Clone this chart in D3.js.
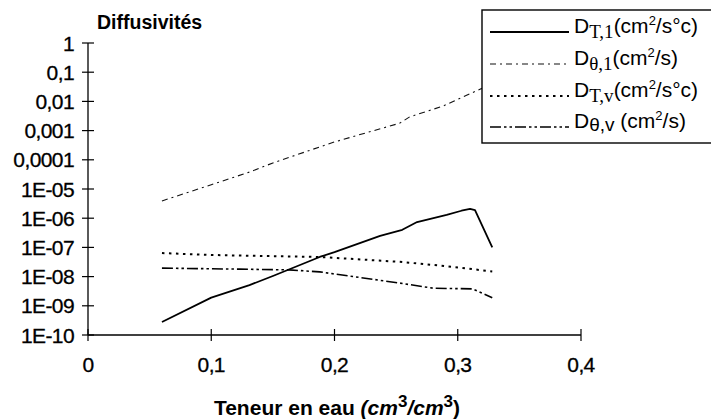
<!DOCTYPE html>
<html><head><meta charset="utf-8">
<script src="https://cdn.jsdelivr.net/npm/d3@7"></script>
<style>body{margin:0;background:#fff}svg{display:block}</style>
</head><body>
<svg id="c" width="711" height="419"></svg>
<script>
// ---- data ----
const yTickValues = [1,1e-1,1e-2,1e-3,1e-4,1e-5,1e-6,1e-7,1e-8,1e-9,1e-10];
const yTickLabels = ["1","0,1","0,01","0,001","0,0001","1E-05","1E-06","1E-07","1E-08","1E-09","1E-10"];
const xTickValues = [0,0.1,0.2,0.3,0.4];
const xTickLabels = ["0","0,1","0,2","0,3","0,4"];

const thetaDTl = [0.06,0.10,0.131,0.15,0.188,0.20,0.237,0.255,0.267,0.291,0.303,0.31,0.314,0.328];
const DTl      = [2.8e-10,1.9e-9,5.1e-9,1.05e-8,4.7e-8,6.9e-8,2.5e-7,4.0e-7,7.4e-7,1.3e-6,1.8e-6,2.1e-6,1.9e-6,1.0e-7];

const thetaDthl = [0.06,0.10,0.131,0.15,0.20,0.253,0.261,0.288,0.318,0.33];
const Dthl      = [3.9e-6,1.4e-5,3.8e-5,7.8e-5,4.1e-4,1.8e-3,2.95e-3,6.9e-3,2.6e-2,4.2e-2];

const thetaDTv = [0.06,0.10,0.15,0.188,0.253,0.29,0.328];
const DTv      = [6.4e-8,5.5e-8,5.0e-8,4.7e-8,3.2e-8,2.3e-8,1.5e-8];

const thetaDthv = [0.06,0.123,0.163,0.188,0.253,0.28,0.312,0.328];
const Dthv      = [1.95e-8,1.8e-8,1.7e-8,1.45e-8,6.0e-9,4.0e-9,3.8e-9,1.9e-9];

// ---- chart ----
const svg = d3.select("#c");
const x = d3.scaleLinear().domain([0,0.4]).range([88,581]);
const y = d3.scaleLog().domain([1e-10,1]).range([335,43]);

const sans = "'Liberation Sans', Arial, sans-serif";
const serif = "'Liberation Serif', 'Times New Roman', serif";

// axes
svg.append("line").attr("x1",88).attr("x2",88).attr("y1",y(1)).attr("y2",y(1e-10)).attr("stroke","#000").attr("stroke-width",1.3);
svg.append("line").attr("x1",88).attr("x2",x(0.4)).attr("y1",335).attr("y2",335).attr("stroke","#000").attr("stroke-width",1.3);

yTickValues.forEach((v,i)=>{
  svg.append("line").attr("x1",82).attr("x2",94).attr("y1",y(v)).attr("y2",y(v)).attr("stroke","#000").attr("stroke-width",1.2);
  svg.append("text").attr("x",74).attr("y",y(v)).attr("dy","0.36em").attr("text-anchor","end")
    .attr("font-family",sans).attr("font-size",21).attr("letter-spacing",-0.6)
    .attr("stroke","#000").attr("stroke-width",0.3).text(yTickLabels[i]);
});
xTickValues.forEach((v,i)=>{
  svg.append("line").attr("x1",x(v)).attr("x2",x(v)).attr("y1",329).attr("y2",341).attr("stroke","#000").attr("stroke-width",1.2);
  svg.append("text").attr("x",x(v)).attr("y",372).attr("text-anchor","middle")
    .attr("font-family",sans).attr("font-size",21).attr("letter-spacing",-0.6)
    .attr("stroke","#000").attr("stroke-width",0.3).text(xTickLabels[i]);
});

// title
svg.append("text").attr("x",97).attr("y",29).attr("font-family",sans).attr("font-weight","bold")
  .attr("font-size",19.5).text("Diffusivités");

// x axis title
const xt = svg.append("text").attr("x",337).attr("y",415).attr("text-anchor","middle")
  .attr("font-family",sans).attr("font-weight","bold").attr("font-size",21);
xt.append("tspan").text("Teneur en eau ");
xt.append("tspan").attr("font-style","italic").text("(cm");
xt.append("tspan").attr("font-size",17).attr("dy",-8).text("3");
xt.append("tspan").attr("font-style","italic").attr("dy",8).text("/cm");
xt.append("tspan").attr("font-size",17).attr("dy",-8).text("3");
xt.append("tspan").attr("dy",8).text(")");

// series
const series = [
  {xs:thetaDthl, ys:Dthl, dash:"6,4,2,4", w:1.1, col:"#111"},
  {xs:thetaDTv, ys:DTv, dash:"2.5,4.5", w:2, col:"#000"},
  {xs:thetaDthv, ys:Dthv, dash:"11,3,2.5,3,2.5,3", w:1.6, col:"#000"},
  {xs:thetaDTl, ys:DTl, dash:null, w:1.8, col:"#000"}
];
const line = d3.line().x(d=>x(d[0])).y(d=>y(d[1]));
series.forEach(s=>{
  const pts = s.xs.map((t,i)=>[t,s.ys[i]]);
  const p = svg.append("path").datum(pts).attr("d",line).attr("fill","none")
    .attr("stroke",s.col).attr("stroke-width",s.w).attr("stroke-linejoin","round");
  if (s.dash) p.attr("stroke-dasharray",s.dash);
});

// legend
svg.append("rect").attr("x",482).attr("y",10).attr("width",240).attr("height",133)
  .attr("fill","#fff").attr("stroke","#000").attr("stroke-width",1.4);
const legend = [
  {sub:"T,1", subFont:serif, unit:"/s°c)", dash:null, w:1.8, col:"#000", yy:33},
  {sub:"θ,1", subFont:serif, unit:"/s)", dash:"6,4,2,4", w:1.1, col:"#111", yy:65},
  {sub:"T,v", subFont:serif, unit:"/s°c)", dash:"2.5,4.5", w:2, col:"#000", yy:97},
  {sub:"θ,v", subFont:sans, unit:"/s)", dash:"11,3,2.5,3,2.5,3", w:1.6, col:"#000", yy:128, space:true}
];
legend.forEach(l=>{
  const ln = svg.append("line").attr("x1",490).attr("x2",569).attr("y1",l.yy-1).attr("y2",l.yy-1)
    .attr("stroke",l.col).attr("stroke-width",l.w);
  if (l.dash) ln.attr("stroke-dasharray",l.dash);
  const t = svg.append("text").attr("x",574).attr("y",l.yy).attr("font-family",sans).attr("font-size",21);
  t.append("tspan").text("D");
  if (l.space) {
    t.append("tspan").attr("font-size",19).attr("dy",3).text("θ,v");
    t.append("tspan").attr("dy",-3).text(" (cm");
  } else {
    t.append("tspan").attr("font-family",l.subFont).attr("font-size",19).attr("dy",5).text(l.sub);
    t.append("tspan").attr("dy",-5).text("(cm");
  }
  t.append("tspan").attr("font-size",13).attr("dy",-8).text("2");
  t.append("tspan").attr("dy",8).text(l.unit);
});
</script>
</body></html>
